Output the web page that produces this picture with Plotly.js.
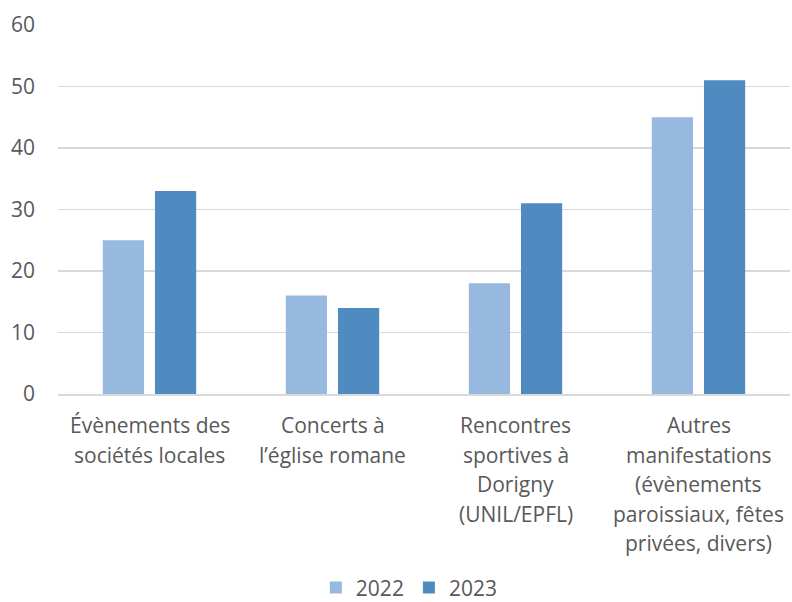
<!DOCTYPE html>
<html>
<head>
<meta charset="utf-8">
<script src="https://cdn.plot.ly/plotly-3.0.1.min.js"></script>
<style>html,body{margin:0;padding:0;background:#fff;}#chart{width:792px;height:602px;}</style>
</head>
<body>
<div id="chart"></div>
<script>
const categories = [
  "Évènements des\nsociétés locales",
  "Concerts à\nl’église romane",
  "Rencontres\nsportives à\nDorigny\n(UNIL/EPFL)",
  "Autres\nmanifestations\n(évènements\nparoissiaux, fêtes\nprivées, divers)"
];
const seriesNames = ["2022", "2023"];
const values2022 = [25, 16, 18, 45];
const values2023 = [33, 14, 31, 51];
const yTicks = [0, 10, 20, 30, 40, 50, 60];

const FONT = "Open Sans, Liberation Sans, sans-serif";
const GREY = "#595959";
const FS = 21;
const keys = categories.map((c, i) => "c" + i);

const traces = [
  {type: "bar", name: seriesNames[0], x: keys, y: values2022, marker: {color: "#97B9E0"}},
  {type: "bar", name: seriesNames[1], x: keys, y: values2023, marker: {color: "#4F8BC1"}}
];

const annotations = [];
categories.forEach((c, i) => {
  c.split("\n").forEach((line, j) => {
    annotations.push({
      x: keys[i], y: 0, xref: "x", yref: "paper",
      text: line, showarrow: false,
      xanchor: "center", yanchor: "middle",
      yshift: -31 - j * 29.5,
      font: {family: FONT, size: FS, color: GREY}
    });
  });
});

const layout = {
  width: 792, height: 602,
  margin: {l: 58, r: 2, t: 25, b: 208, autoexpand: false},
  paper_bgcolor: "#fff", plot_bgcolor: "#fff",
  barmode: "group", bargap: 0.43, bargroupgap: 0.21,
  font: {family: FONT, size: FS, color: GREY},
  xaxis: {showticklabels: false, showgrid: false, showline: true, linecolor: "#d9d9d9", linewidth: 2, ticks: ""},
  yaxis: {range: [0, 60], tickvals: yTicks, showgrid: true, gridcolor: "#d9d9d9", gridwidth: 1.5,
          zeroline: false, showline: false, ticks: "", ticklabelstandoff: 22,
          tickfont: {family: FONT, size: FS, color: GREY}},
  showlegend: true,
  legend: {orientation: "h", x: 0.48, xanchor: "center", y: -0.525, yanchor: "middle",
           font: {family: FONT, size: FS, color: GREY}, itemwidth: 30, traceorder: "normal"},
  annotations: annotations
};

Plotly.newPlot("chart", traces, layout, {displayModeBar: false, staticPlot: true});
</script>
</body>
</html>
